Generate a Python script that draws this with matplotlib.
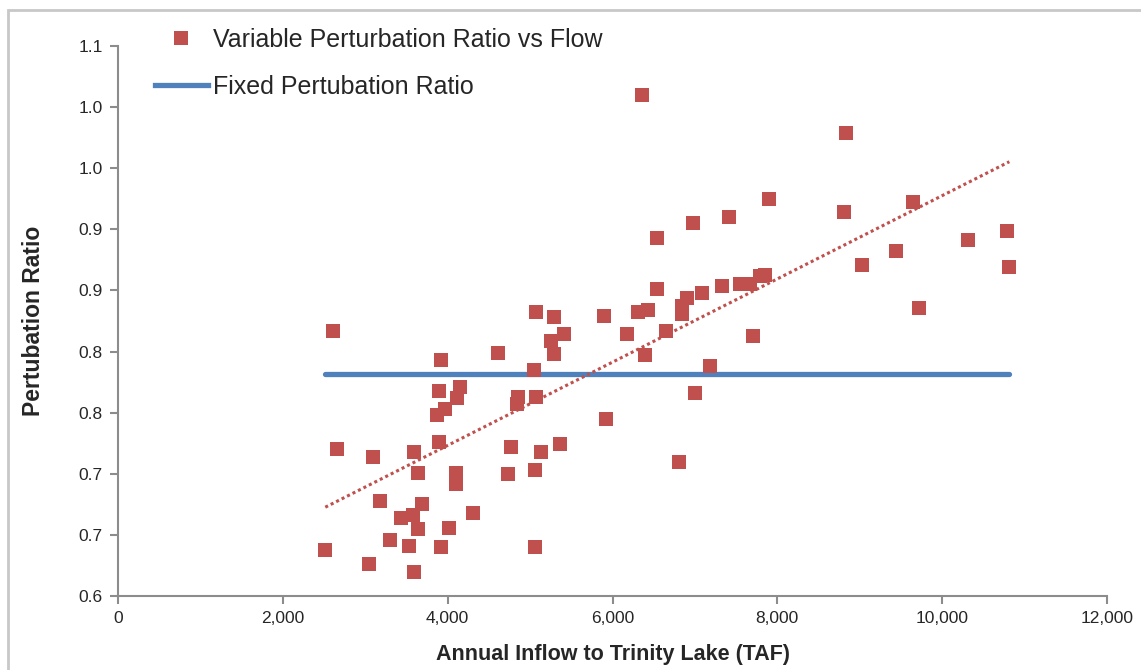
#!/usr/bin/env python3
"""
Gráfico de dispersão: razão de perturbação vs vazão anual afluente ao Trinity Lake.
"""

import numpy as np
import matplotlib
matplotlib.use('Agg')
import matplotlib.pyplot as plt
from matplotlib.lines import Line2D
from matplotlib.patches import Rectangle

# Vazão anual (TAF) e razão de perturbação variável
inflow = [2605, 3919, 4607, 5068, 5294, 5412, 5250, 5294, 5051, 3895,
          4146, 4117, 3964, 3871, 4857, 4838, 5068, 3895, 2654, 3090,
          3592, 4765, 5136, 5367, 3640, 4101, 4101, 4736, 5063, 3179,
          3689, 3437, 3583, 3640, 4304, 4013, 3297, 3527, 3915, 5063,
          2515, 3045, 3595, 8813, 7414, 6977, 6540, 9024, 6540, 5897,
          6309, 6431, 6908, 7086, 7325, 7547, 7668, 7790, 7854, 6840,
          6840, 6172, 6653, 6398, 7708, 7183, 7001, 5917, 6811, 8837,
          9643, 9436, 10310, 10790, 10815, 9715, 6354, 7895]
ratio = [0.817, 0.793, 0.799, 0.832, 0.828, 0.814, 0.809, 0.798, 0.785, 0.768,
         0.771, 0.762, 0.753, 0.748, 0.763, 0.757, 0.763, 0.726, 0.720, 0.714,
         0.718, 0.722, 0.718, 0.724, 0.701, 0.701, 0.692, 0.700, 0.703, 0.678,
         0.675, 0.664, 0.666, 0.655, 0.668, 0.656, 0.646, 0.641, 0.640, 0.640,
         0.638, 0.626, 0.620, 0.914, 0.910, 0.905, 0.893, 0.871, 0.851, 0.829,
         0.832, 0.834, 0.844, 0.848, 0.854, 0.855, 0.855, 0.862, 0.863, 0.837,
         0.831, 0.814, 0.817, 0.797, 0.813, 0.788, 0.766, 0.745, 0.710, 0.979,
         0.922, 0.882, 0.891, 0.899, 0.869, 0.836, 1.010, 0.925]

fixed_ratio = 0.7816

x_ticks = [0, 2000, 4000, 6000, 8000, 10000, 12000]
y_ticks = [0.60, 0.65, 0.70, 0.75, 0.80, 0.85, 0.90, 0.95, 1.00, 1.05]
y_tick_labels = ['0.6', '0.7', '0.7', '0.8', '0.8', '0.9', '0.9', '1.0', '1.0', '1.1']

RED = '#C0504D'
BLUE = '#4F81BD'
AXIS_GRAY = '#8C8C8C'
TEXT = '#262626'

plt.rcParams['font.family'] = ['Liberation Sans', 'DejaVu Sans']

W, H = 1141, 670
fig = plt.figure(figsize=(W / 100, H / 100), dpi=100)
ax = fig.add_axes([118 / W, 1 - 596 / H, (1107 - 118) / W, (596 - 46) / H])

# Borda externa do gráfico (sai pela direita e por baixo)
fig.patches.append(Rectangle((8 / W, -0.05), 1.1, (H - 10) / H + 0.05,
                             transform=fig.transFigure, fill=False,
                             edgecolor='#C8C8C8', lw=2))

x = np.array(inflow)
y = np.array(ratio)

ax.plot(x, y, 's', color=RED, markersize=10.5, markeredgewidth=0, zorder=3)

# Razão fixa
ax.plot([x.min(), x.max()], [fixed_ratio, fixed_ratio], color=BLUE, lw=3.8,
        solid_capstyle='round', zorder=2)

# Linha de tendência linear
coef = np.polyfit(x, y, 1)
xt = np.array([x.min(), x.max()])
ax.plot(xt, np.polyval(coef, xt), color=RED, lw=2.2, linestyle=(0, (1, 1)),
        zorder=4)

ax.set_xlim(0, 12000)
ax.set_ylim(0.6, 1.05)
ax.set_xticks(x_ticks)
ax.set_xticklabels([f'{v:,}' for v in x_ticks])
ax.set_yticks(y_ticks)
ax.set_yticklabels(y_tick_labels)

for s in ['top', 'right']:
    ax.spines[s].set_visible(False)
for s in ['left', 'bottom']:
    ax.spines[s].set_color(AXIS_GRAY)
    ax.spines[s].set_linewidth(1.5)
ax.tick_params(axis='both', direction='out', length=6, width=1.5,
               color=AXIS_GRAY, labelsize=12.5, labelcolor=TEXT, pad=5)

ax.set_xlabel('Annual Inflow to Trinity Lake (TAF)', fontsize=15.5,
              fontweight='bold', color=TEXT, labelpad=13)
ax.set_ylabel('Pertubation Ratio', fontsize=16.5, fontweight='bold',
              color=TEXT, labelpad=24)

handles = [Line2D([], [], marker='s', linestyle='none', color=RED,
                  markersize=10.5, markeredgewidth=0),
           Line2D([], [], color=BLUE, lw=3.8)]
labels = ['Variable Perturbation Ratio vs Flow', 'Fixed Pertubation Ratio']
fig.legend(handles, labels, loc='upper left',
           bbox_to_anchor=(155 / W, 1 - 28 / H), frameon=False,
           fontsize=18, labelcolor=TEXT, borderpad=0, borderaxespad=0,
           handlelength=2.1, handletextpad=0.2, labelspacing=0.9)

fig.savefig('out.png', dpi=100)
